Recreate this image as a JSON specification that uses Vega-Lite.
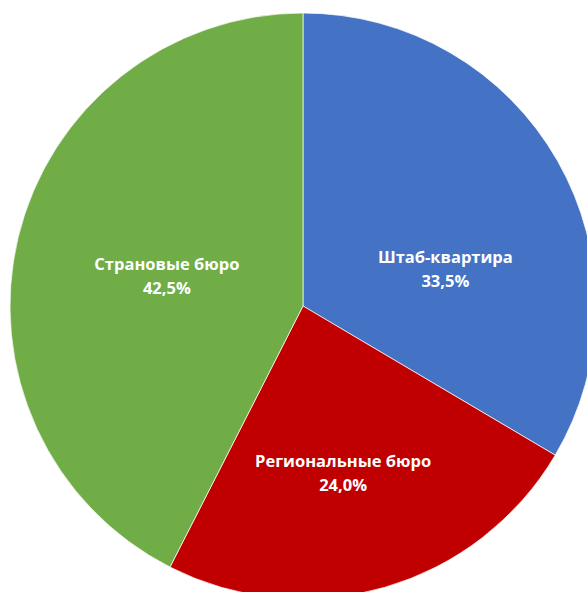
{
  "$schema": "https://vega.github.io/schema/vega-lite/v6.json",
  "width": 606,
  "height": 612,
  "padding": 0,
  "autosize": {"type": "none"},
  "background": "white",
  "view": {"stroke": null},
  "data": {
    "values": [
      {"name": "Штаб-квартира", "label": "Штаб-квартира\n33,5%", "value": 33.5, "order": 1},
      {"name": "Региональные бюро", "label": "Региональные бюро\n24,0%", "value": 24.0, "order": 2},
      {"name": "Страновые бюро", "label": "Страновые бюро\n42,5%", "value": 42.5, "order": 3}
    ]
  },
  "encoding": {
    "theta": {"field": "value", "type": "quantitative", "stack": true},
    "order": {"field": "order", "type": "quantitative"}
  },
  "layer": [
    {
      "mark": {"type": "arc", "outerRadius": 293, "stroke": "#ffffff", "strokeWidth": 0.7},
      "encoding": {
        "color": {
          "field": "name",
          "type": "nominal",
          "scale": {
            "domain": ["Штаб-квартира", "Региональные бюро", "Страновые бюро"],
            "range": ["#4472C4", "#C00000", "#70AD47"]
          },
          "legend": null
        }
      }
    },
    {
      "mark": {"type": "text", "radius": 165, "dx": -1, "dy": 34, "font": "Open Sans", "fontWeight": "bold", "fontSize": 16.5, "fill": "white", "lineBreak": "\n", "lineHeight": 24, "align": "center", "baseline": "middle"},
      "encoding": {
        "text": {"condition": {"test": "datum.name === 'Штаб-квартира'", "field": "label"}, "value": ""}
      }
    },
    {
      "mark": {"type": "text", "radius": 176, "dx": -9, "dy": -13, "font": "Open Sans", "fontWeight": "bold", "fontSize": 16.5, "fill": "white", "lineBreak": "\n", "lineHeight": 24, "align": "center", "baseline": "middle"},
      "encoding": {
        "text": {"condition": {"test": "datum.name === 'Региональные бюро'", "field": "label"}, "value": ""}
      }
    },
    {
      "mark": {"type": "text", "radius": 140, "dx": 0, "dy": -8, "font": "Open Sans", "fontWeight": "bold", "fontSize": 16.5, "fill": "white", "lineBreak": "\n", "lineHeight": 24, "align": "center", "baseline": "middle"},
      "encoding": {
        "text": {"condition": {"test": "datum.name === 'Страновые бюро'", "field": "label"}, "value": ""}
      }
    }
  ]
}
